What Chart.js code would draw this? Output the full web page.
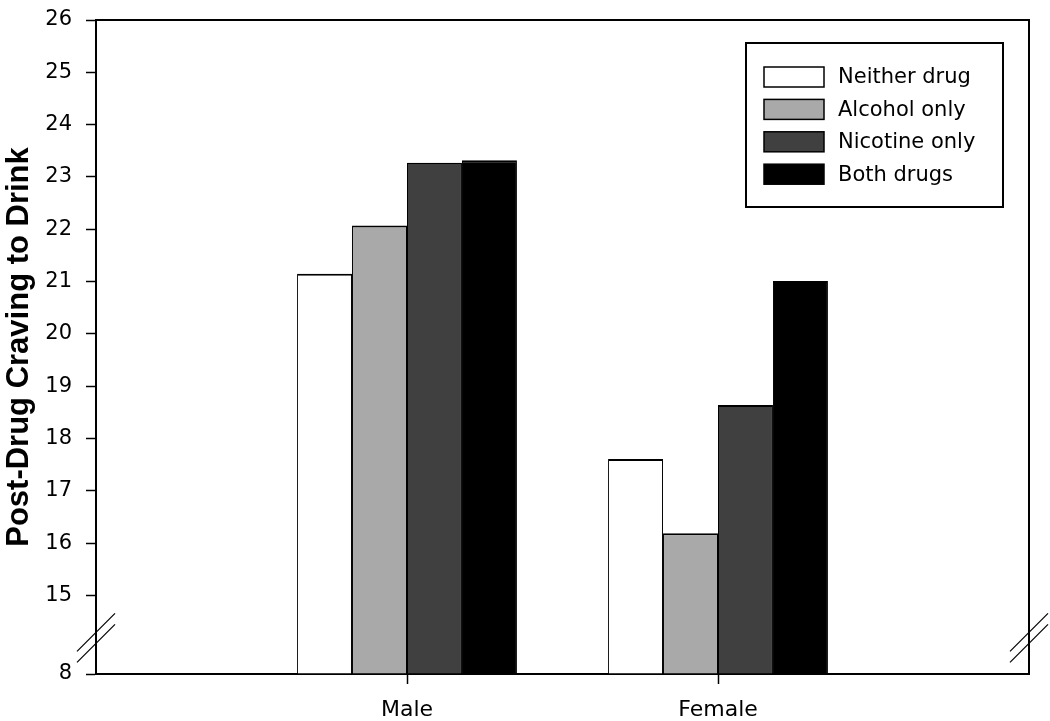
<!DOCTYPE html>
<html><head><meta charset="utf-8">
<script src="https://cdn.jsdelivr.net/npm/chart.js@4.4.0/dist/chart.umd.min.js"></script>
<style>html,body{margin:0;padding:0;background:#fff;} canvas{display:block;}</style>
</head><body>
<canvas id="c" width="1050" height="721"></canvas>
<script>
const categories = ['', 'Male', 'Female', ''];
const seriesLabels = ['Neither drug', 'Alcohol only', 'Nicotine only', 'Both drugs'];
const neitherDrug = [null, 21.15, 17.61, null];
const alcoholOnly = [null, 22.07, 16.19, null];
const nicotineOnly = [null, 23.27, 18.64, null];
const bothDrugs = [null, 23.32, 21.01, null];
const seriesColors = ['#ffffff', '#a9a9a9', '#404040', '#000000'];
const yTickValues = [13.5, 15, 16, 17, 18, 19, 20, 21, 22, 23, 24, 25, 26];
const yTickLabels = ['8', '15', '16', '17', '18', '19', '20', '21', '22', '23', '24', '25', '26'];
const yAxisMin = 13.5, yAxisMax = 26, yBreakAt = 14.19;
const yTitle = 'Post-Drug Craving to Drink';

const seriesData = [neitherDrug, alcoholOnly, nicotineOnly, bothDrugs];

Chart.defaults.color = '#000';
Chart.defaults.font.family = 'DejaVu Sans';

const decorPlugin = {
  id: 'decor',
  afterDraw(chart) {
    const ctx = chart.ctx, ca = chart.chartArea, ys = chart.scales.y;
    ctx.save();
    ctx.strokeStyle = '#000';
    ctx.lineWidth = 2;
    ctx.beginPath();
    ctx.moveTo(ca.left, ca.top);
    ctx.lineTo(ca.right, ca.top);
    ctx.lineTo(ca.right, ca.bottom);
    ctx.stroke();
    const yc = ys.getPixelForValue(yBreakAt);
    ctx.lineWidth = 1.2;
    [ca.left, ca.right].forEach(x => {
      [-5.5, 5.5].forEach(d => {
        ctx.beginPath();
        ctx.moveTo(x - 19, yc + d + 19);
        ctx.lineTo(x + 19, yc + d - 19);
        ctx.stroke();
      });
    });
    const boxW = 257, boxH = 164;
    const boxLeft = ca.right - 26 - boxW, boxTop = ca.top + 23;
    ctx.lineWidth = 2;
    ctx.fillStyle = '#fff';
    ctx.fillRect(boxLeft, boxTop, boxW, boxH);
    ctx.strokeRect(boxLeft, boxTop, boxW, boxH);
    ctx.font = '21px "DejaVu Sans"';
    ctx.textBaseline = 'middle';
    ctx.textAlign = 'left';
    chart.data.datasets.forEach((ds, i) => {
      const y = boxTop + 24 + i * 32.4;
      ctx.fillStyle = ds.backgroundColor;
      ctx.fillRect(boxLeft + 18, y, 60, 20);
      ctx.lineWidth = 1.5;
      ctx.strokeStyle = '#000';
      ctx.strokeRect(boxLeft + 18, y, 60, 20);
      ctx.fillStyle = '#000';
      ctx.fillText(ds.label, boxLeft + 92, y + 11);
    });
    ctx.restore();
  }
};

new Chart(document.getElementById('c'), {
  type: 'bar',
  data: {
    labels: categories,
    datasets: seriesLabels.map((lab, i) => ({
      label: lab,
      data: seriesData[i],
      backgroundColor: seriesColors[i],
      borderColor: '#000',
      borderWidth: { top: 2, left: 1, right: 1, bottom: 0 },
      borderSkipped: 'start',
      base: yAxisMin,
      categoryPercentage: 0.707,
      barPercentage: 1.0
    }))
  },
  options: {
    responsive: false,
    animation: false,
    devicePixelRatio: 1,
    layout: { padding: { top: 20, right: 21, left: 0, bottom: 0 } },
    plugins: { legend: { display: false }, tooltip: { enabled: false } },
    scales: {
      x: {
        type: 'category',
        offset: false,
        grid: {
          display: true, offset: false, drawOnChartArea: false, drawTicks: true, tickLength: 10,
          tickWidth: 1.5,
          tickColor: (c) => (c.tick && c.tick.label) ? '#000' : 'rgba(0,0,0,0)'
        },
        border: { display: true, color: '#000', width: 2 },
        ticks: { color: '#000', font: { family: 'DejaVu Sans', size: 22 }, padding: 13, maxRotation: 0, autoSkip: false },
        afterFit: (s) => { s.height = 47; s.paddingLeft = 0; s.paddingRight = 0; }
      },
      y: {
        type: 'linear',
        min: yAxisMin,
        max: yAxisMax,
        afterBuildTicks: (s) => { s.ticks = yTickValues.map(v => ({ value: v })); },
        ticks: {
          color: '#000',
          font: { family: 'DejaVu Sans', size: 21 },
          padding: 14,
          callback: (v, i) => yTickLabels[i]
        },
        grid: { drawOnChartArea: false, drawTicks: true, tickLength: 10, tickColor: '#000', tickWidth: 1.5 },
        border: { display: true, color: '#000', width: 2 },
        title: {
          display: true, text: yTitle, color: '#000',
          font: { family: 'Liberation Sans', weight: 'bold', size: 31 },
          padding: { top: 1, bottom: 0 }
        },
        afterFit: (s) => { s.width = 96; s.paddingTop = 0; s.paddingBottom = 0; }
      }
    }
  },
  plugins: [decorPlugin]
});
</script>
</body></html>
